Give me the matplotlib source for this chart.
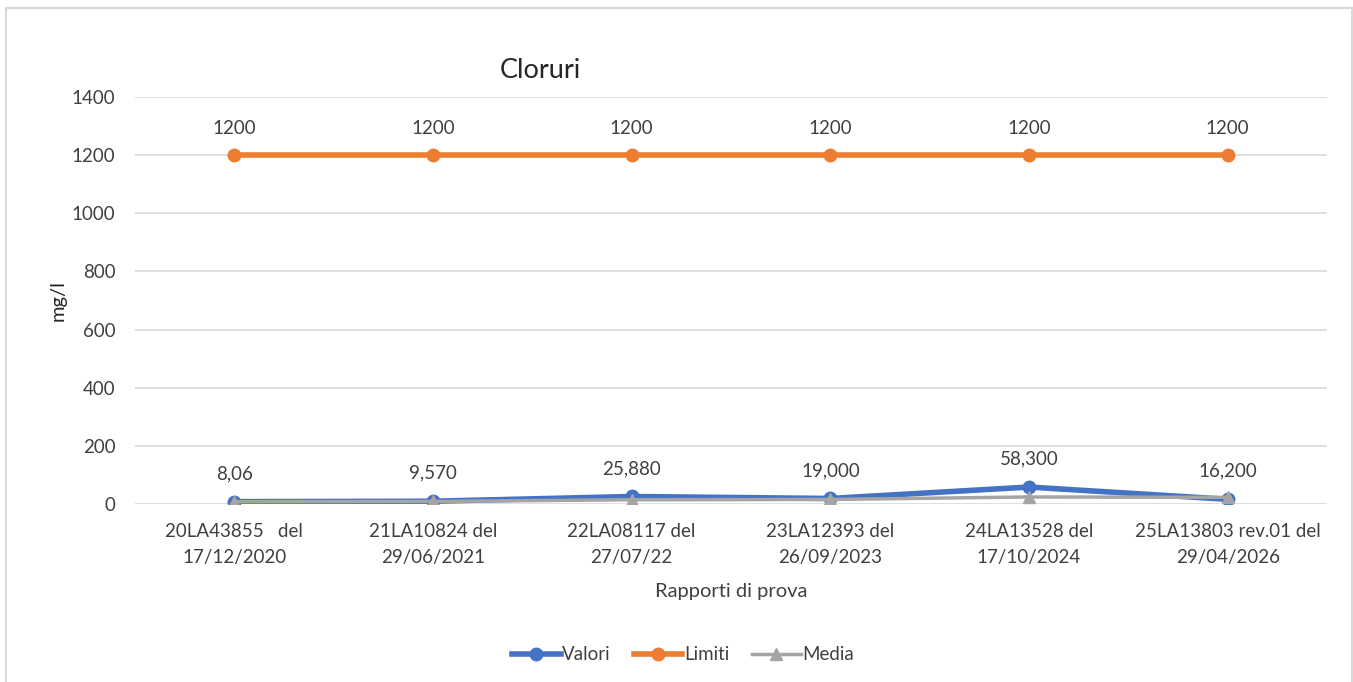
import matplotlib.pyplot as plt
from matplotlib.patches import Rectangle

plt.rcParams['font.family'] = ['Lato', 'DejaVu Sans']

categories = ['20LA43855   del\n17/12/2020', '21LA10824 del\n29/06/2021',
              '22LA08117 del\n27/07/22', '23LA12393 del\n26/09/2023',
              '24LA13528 del\n17/10/2024', '25LA13803 rev.01 del\n29/04/2026']
valori = [8.06, 9.57, 25.88, 19.0, 58.3, 16.2]
valori_labels = ['8,06', '9,570', '25,880', '19,000', '58,300', '16,200']
limiti = [1200, 1200, 1200, 1200, 1200, 1200]
media = [8.1, 8.8, 14.5, 15.6, 24.2, 22.8]

blue = '#4472C4'
orange = '#ED7D31'
gray = '#A5A5A5'
txt = '#404040'

fig = plt.figure(figsize=(13.53, 6.82), dpi=100)
fig.patches.append(Rectangle((6/1353, -0.01), 1346/1353, 1 - 8/682 + 0.01,
                             transform=fig.transFigure, fill=False,
                             edgecolor='#D9D9D9', linewidth=1.5))

ax = fig.add_axes([135/1353, 1 - 504/682, 1192/1353, 407/682])
x = range(len(categories))

ax.plot(x, media, color=gray, lw=2.5, marker='^', ms=8, label='Media', zorder=5)
ax.plot(x, valori, color=blue, lw=4, marker='o', ms=9, label='Valori', zorder=4)
ax.plot(x, limiti, color=orange, lw=4, marker='o', ms=9, label='Limiti', zorder=4)

for i in x:
    ax.annotate(valori_labels[i], (i, valori[i]), xytext=(0, 14), textcoords='offset points',
                ha='center', va='bottom', fontsize=13.5, color=txt)
    ax.annotate(str(limiti[i]), (i, limiti[i]), xytext=(0, 13), textcoords='offset points',
                ha='center', va='bottom', fontsize=13.5, color=txt)

ax.set_xlim(-0.5, 5.5)
ax.set_ylim(0, 1400)
ax.set_yticks(range(0, 1401, 200))
ax.set_xticks(list(x))
ax.set_xticklabels(categories, fontsize=13.5, color=txt, linespacing=1.6)
ax.tick_params(axis='y', labelsize=13.5, labelcolor=txt, length=0, pad=14)
ax.tick_params(axis='x', length=0, pad=14)
ax.grid(axis='y', color='#D9D9D9', lw=1.2)
ax.set_axisbelow(True)
for s in ax.spines.values():
    s.set_visible(False)

ax.set_xlabel('Rapporti di prova', fontsize=14.5, color=txt, labelpad=12)
ax.set_ylabel('mg/l', fontsize=14.5, color='#262626', labelpad=5)
ax.yaxis.set_label_coords(-68/1192, 0.5)
fig.text(540/1353, 1 - 70/682, 'Cloruri', fontsize=19.5, color='#262626', ha='center', va='center')

h, l = ax.get_legend_handles_labels()
order = [1, 2, 0]
fig.legend([h[i] for i in order], [l[i] for i in order], loc='center',
           bbox_to_anchor=(683/1353, 1 - 655/682), ncol=3, frameon=False,
           fontsize=13.5, handlelength=2.6, columnspacing=1.2, handletextpad=0.1,
           labelcolor=txt)

fig.savefig('out.png', dpi=100)
